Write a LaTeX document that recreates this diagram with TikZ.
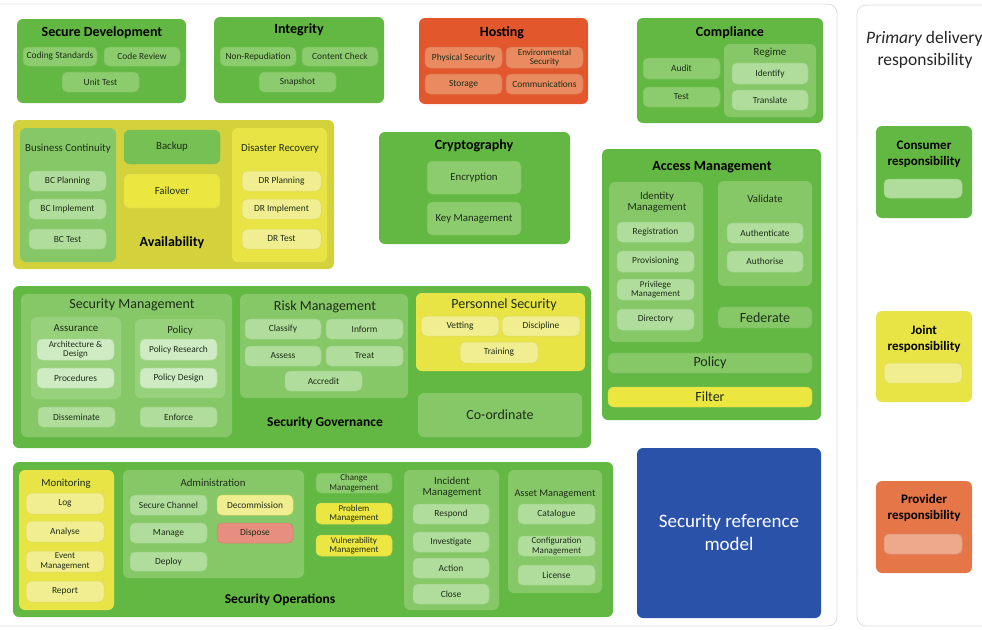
\documentclass[tikz,border=0pt]{standalone}
\usepackage{fontspec}
\setmainfont{Carlito}
\definecolor{G1}{RGB}{98,184,66}
\definecolor{G2}{RGB}{134,200,104}
\definecolor{G3}{RGB}{152,209,124}
\definecolor{PA}{RGB}{140,204,110}
\definecolor{PAd}{RGB}{122,192,92}
\definecolor{PB}{RGB}{176,221,156}
\definecolor{PBd}{RGB}{158,212,136}
\definecolor{PC}{RGB}{206,235,196}
\definecolor{GB}{RGB}{118,192,84}
\definecolor{AV}{RGB}{212,210,60}
\definecolor{Y1}{RGB}{232,228,70}
\definecolor{Y2}{RGB}{241,238,145}
\definecolor{Y2d}{RGB}{222,216,92}
\definecolor{Y3}{RGB}{236,230,64}
\definecolor{O1}{RGB}{226,88,44}
\definecolor{O2}{RGB}{234,138,96}
\definecolor{OL}{RGB}{228,118,72}
\definecolor{OLp}{RGB}{238,168,140}
\definecolor{DS}{RGB}{232,142,128}
\definecolor{BL}{RGB}{42,82,168}
\definecolor{TX}{RGB}{30,46,24}
\definecolor{FR}{RGB}{222,222,222}
\newcommand\fpill{\fontsize{9.4}{10}\selectfont}
\newcommand\fpilltwo{\fontsize{9}{9.4}\selectfont}
\newcommand\fsub{\fontsize{10.8}{11.5}\selectfont}
\newcommand\fttl{\fontsize{14}{15}\selectfont\bfseries}
\newcommand\fbig{\fontsize{14}{15}\selectfont}
\newcommand\bx[7]{\node[#6,minimum width={(#4-#2)*1pt},minimum height={(#5-#3)*1pt}] (#1) at ({(#2+#4)/2},{(#3+#5)/2}) {#7};}
\tikzset{
  cont/.style={rounded corners=6pt,inner sep=0pt,draw=none},
  Lone/.style={cont,fill=G1},
  Ltwo/.style={cont,fill=G2},
  Lthree/.style={cont,fill=G3},
  AVbox/.style={cont,fill=AV},
  Ybox/.style={cont,fill=Y1},
  Obox/.style={cont,fill=O1},
  OLbox/.style={cont,fill=OL},
  BLbox/.style={cont,fill=BL,text=white,align=center,font=\fontsize{19}{23}\selectfont},
  pill/.style={rounded corners=5pt,inner sep=0pt,font=\fpill,text=TX,align=center,line width=0.5pt},
  pA/.style={pill,fill=PA,draw=PAd},
  pB/.style={pill,fill=PB,draw=PBd},
  pC/.style={pill,fill=PC,draw=PB},
  pY/.style={pill,fill=Y2,draw=Y2d},
  pYb/.style={pill,fill=Y3,draw=Y2d},
  pO/.style={pill,fill=O2,draw=O2!90!black},
  pR/.style={pill,fill=DS,draw=DS!90!black},
  pOL/.style={pill,fill=OLp,draw=OLp!90!black},
  ttl/.style={font=\fttl,text=black,inner sep=0pt},
  sub/.style={font=\fsub,text=TX,inner sep=0pt,align=center},
  big/.style={font=\fbig,text=TX,inner sep=0pt,align=center},
  two/.style={font=\fpilltwo},
}
\begin{document}
\begin{tikzpicture}[x=1pt,y=-1pt]
\useasboundingbox (0,0) rectangle (982,629);
\fill[white] (0,0) rectangle (982,629);
\draw[FR,line width=0.8pt,rounded corners=9pt] (-12,4) rectangle (837,626);
\draw[FR,line width=0.8pt,rounded corners=9pt] (857,5) rectangle (1000,626);
% Secure Development
\bx{sd}{17}{19}{186}{103}{Lone}{}
\node[ttl] (sdT) at (102,33) {Secure Development};
\bx{sdA}{23}{47}{97}{66}{pA}{Coding Standards}
\bx{sdB}{104}{47}{180}{66}{pA}{Code Review}
\bx{sdC}{62}{72}{139}{92}{pA}{Unit Test}
% Integrity
\bx{ig}{214}{17}{384}{103}{Lone}{}
\node[ttl] (igT) at (299,30) {Integrity};
\bx{igA}{220}{47}{296}{66}{pA}{Non-Repudiation}
\bx{igB}{302}{47}{378}{66}{pA}{Content Check}
\bx{igC}{259}{72}{336}{92}{pA}{Snapshot}
% Hosting
\bx{ho}{419}{18}{588}{104}{Obox}{}
\node[ttl] (hoT) at (502,33) {Hosting};
\bx{hoA}{425}{47}{502}{68}{pO}{Physical Security}
\bx{hoB}{506}{47}{583}{68}{pO,two}{Environmental\\Security}
\bx{hoC}{425}{74}{502}{94}{pO}{Storage}
\bx{hoD}{506}{74}{583}{94}{pO}{Communications}
% Compliance
\bx{co}{637}{18}{823}{123}{Lone}{}
\node[ttl] (coT) at (730,33) {Compliance};
\bx{coA}{643}{58}{720}{79}{pA}{Audit}
\bx{coB}{643}{87}{720}{107}{pA}{Test}
\bx{coR}{724}{44}{816}{117}{Ltwo}{}
\node[sub] (coRT) at (770,53) {Regime};
\bx{coC}{732}{63}{808}{84}{pB}{Identify}
\bx{coD}{732}{90}{808}{110}{pB}{Translate}
% Availability
\bx{av}{13}{120}{334}{269}{AVbox}{}
\node[ttl] (avT) at (172,243) {Availability};
\bx{bc}{20}{128}{116}{262}{Ltwo}{}
\node[sub] (bcT) at (68,149) {Business Continuity};
\bx{bcA}{29}{171}{106}{191}{pB}{BC Planning}
\bx{bcB}{29}{199}{106}{219}{pB}{BC Implement}
\bx{bcC}{29}{229}{106}{249}{pB}{BC Test}
\bx{bu}{124}{130}{220}{164}{cont,fill=GB,draw=PAd,font=\fsub,text=TX}{Backup}
\bx{fo}{124}{174}{220}{208}{cont,fill=Y3,draw=Y2d,font=\fsub,text=TX}{Failover}
\bx{dr}{232}{128}{327}{262}{Ybox}{}
\node[sub] (drT) at (280,149) {Disaster Recovery};
\bx{drA}{242}{171}{321}{191}{pY}{DR Planning}
\bx{drB}{242}{199}{321}{219}{pY}{DR Implement}
\bx{drC}{242}{229}{321}{249}{pY}{DR Test}
% Cryptography
\bx{cr}{379}{132}{570}{244}{Lone}{}
\node[ttl] (crT) at (474,146) {Cryptography};
\bx{crA}{427}{161}{521}{194}{pA,font=\fsub}{Encryption}
\bx{crB}{427}{202}{521}{235}{pA,font=\fsub}{Key Management}
% Access Management
\bx{am}{602}{149}{821}{420}{Lone}{}
\node[ttl] (amT) at (712,167) {Access Management};
\bx{id}{609}{182}{703}{342}{Ltwo}{}
\node[sub] (idT) at (657,202) {Identity\\Management};
\bx{idA}{617}{222}{694}{242}{pB}{Registration}
\bx{idB}{617}{251}{694}{272}{pB}{Provisioning}
\bx{idC}{617}{279}{694}{300}{pB,two}{Privilege\\Management}
\bx{idD}{617}{309}{694}{330}{pB}{Directory}
\bx{va}{718}{181}{812}{286}{Ltwo}{}
\node[sub] (vaT) at (765,199) {Validate};
\bx{vaA}{727}{223}{803}{243}{pB}{Authenticate}
\bx{vaB}{727}{251}{803}{272}{pB}{Authorise}
\bx{fe}{718}{307}{812}{328}{cont,fill=G2,draw=PAd,font=\fbig,text=TX}{Federate}
\bx{po}{608}{353}{812}{373}{cont,fill=G2,draw=PAd,font=\fbig,text=TX}{Policy}
\bx{fi}{608}{387}{812}{407}{cont,fill=Y3,draw=Y2d,font=\fbig,text=TX}{Filter}
% Security Governance
\bx{sg}{13}{286}{591}{448}{Lone}{}
\node[ttl,font=\fontsize{13.5}{15}\selectfont\bfseries] (sgT) at (325,423) {Security Governance};
\bx{sm}{21}{294}{232}{437}{Ltwo}{}
\node[big] (smT) at (132,305) {Security Management};
\bx{as}{31}{317}{121}{399}{Lthree}{}
\node[sub] (asT) at (76,328) {Assurance};
\bx{asA}{37}{339}{114}{360}{pC,two}{Architecture \&\\Design}
\bx{asB}{37}{368}{114}{388}{pC}{Procedures}
\bx{pl}{135}{319}{225}{398}{Lthree}{}
\node[sub] (plT) at (180,331) {Policy};
\bx{plA}{140}{339}{217}{360}{pC}{Policy Research}
\bx{plB}{140}{368}{217}{388}{pC}{Policy Design}
\bx{smA}{38}{407}{115}{427}{pB}{Disseminate}
\bx{smB}{140}{407}{217}{427}{pB}{Enforce}
\bx{rm}{240}{294}{408}{398}{Ltwo}{}
\node[big] (rmT) at (325,307) {Risk Management};
\bx{rmA}{245}{319}{321}{339}{pB}{Classify}
\bx{rmB}{326}{319}{403}{339}{pB}{Inform}
\bx{rmC}{245}{346}{321}{366}{pB}{Assess}
\bx{rmD}{326}{346}{403}{366}{pB}{Treat}
\bx{rmE}{285}{371}{362}{391}{pB}{Accredit}
\bx{ps}{416}{293}{585}{371}{Ybox}{}
\node[big] (psT) at (504,305) {Personnel Security};
\bx{psA}{421}{316}{499}{336}{pY}{Vetting}
\bx{psB}{502}{316}{580}{336}{pY}{Discipline}
\bx{psC}{460}{342}{538}{363}{pY}{Training}
\bx{cd}{418}{393}{582}{437}{Ltwo,font=\fbig,text=TX}{Co-ordinate}
% Security Operations
\bx{so}{13}{462}{613}{617}{Lone}{}
\node[ttl,font=\fontsize{13.5}{15}\selectfont\bfseries] (soT) at (280,600) {Security Operations};
\bx{mo}{19}{470}{114}{610}{Ybox}{}
\node[sub] (moT) at (66,484) {Monitoring};
\bx{moA}{26}{493}{104}{514}{pY}{Log}
\bx{moB}{26}{521}{104}{542}{pY}{Analyse}
\bx{moC}{26}{551}{104}{572}{pY,two}{Event\\Management}
\bx{moD}{26}{581}{104}{602}{pY}{Report}
\bx{ad}{123}{470}{304}{578}{Ltwo}{}
\node[sub] (adT) at (213,483) {Administration};
\bx{adA}{130}{495}{207}{515}{pB}{Secure Channel}
\bx{adB}{217}{495}{293}{515}{pY}{Decommission}
\bx{adC}{130}{523}{207}{543}{pB}{Manage}
\bx{adD}{217}{523}{293}{543}{pR}{Dispose}
\bx{adE}{130}{552}{207}{571}{pB}{Deploy}
\bx{cm}{316}{473}{392}{493}{pA,two}{Change\\Management}
\bx{pm}{316}{503}{392}{524}{pYb,two}{Problem\\Management}
\bx{vm}{316}{535}{392}{556}{pYb,two}{Vulnerability\\Management}
\bx{im}{404}{470}{499}{610}{Ltwo}{}
\node[sub] (imT) at (452,487) {Incident\\Management};
\bx{imA}{413}{504}{489}{524}{pB}{Respond}
\bx{imB}{413}{532}{489}{552}{pB}{Investigate}
\bx{imC}{413}{558}{489}{578}{pB}{Action}
\bx{imD}{413}{584}{489}{604}{pB}{Close}
\bx{asm}{508}{470}{602}{593}{Ltwo}{}
\node[sub,font=\fontsize{10.3}{11}\selectfont] (asmT) at (555,494) {Asset Management};
\bx{asmA}{518}{504}{595}{524}{pB}{Catalogue}
\bx{asmB}{518}{536}{595}{556}{pB,two}{Configuration\\Management}
\bx{asmC}{518}{565}{595}{585}{pB}{License}
% Blue box
\bx{srm}{637}{448}{821}{618}{BLbox}{Security reference\\model}
% Legend
\node[anchor=west,inner sep=0pt,font=\fontsize{17.5}{18}\selectfont,text=black!85] (prim) at (866,39) {\itshape Primary\upshape{} delivery};
\node[inner sep=0pt,font=\fontsize{17.5}{18}\selectfont,text=black!85] (prim2) at (925,61) {responsibility};
\bx{lc}{876}{126}{972}{218}{Lone}{}
\node[ttl,align=center,font=\fontsize{13}{16}\selectfont\bfseries] (lcT) at (924,154) {Consumer\\responsibility};
\bx{lcp}{884}{179}{962}{198}{pB}{}
\bx{lj}{876}{311}{972}{402}{Ybox}{}
\node[ttl,align=center,font=\fontsize{13}{16}\selectfont\bfseries] (ljT) at (924,339) {Joint\\responsibility};
\bx{ljp}{884}{363}{962}{383}{pY}{}
\bx{lp}{876}{481}{972}{573}{OLbox}{}
\node[ttl,align=center,font=\fontsize{13}{16}\selectfont\bfseries] (lpT) at (924,508) {Provider\\responsibility};
\bx{lpp}{884}{534}{962}{554}{pOL}{}
\end{tikzpicture}
\end{document}
